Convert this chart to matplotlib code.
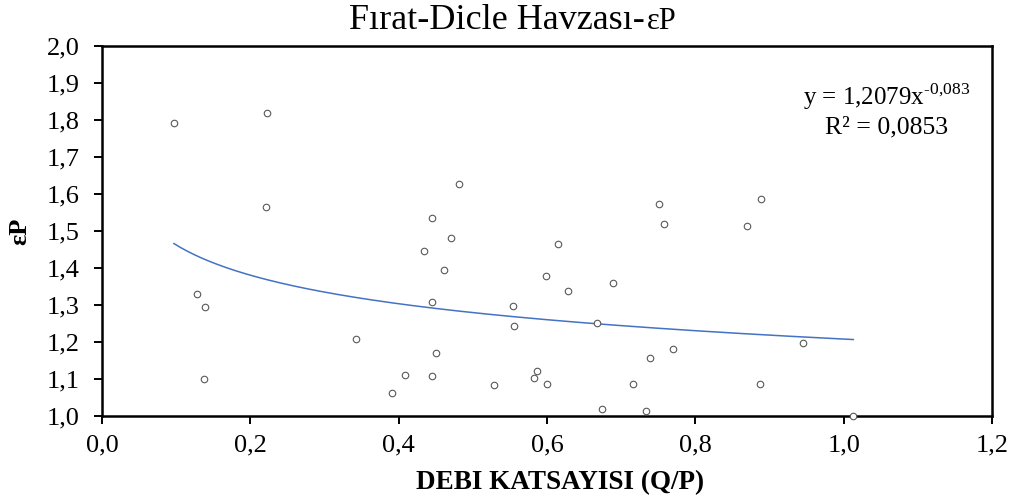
import matplotlib
matplotlib.use('Agg')
import matplotlib.pyplot as plt
import numpy as np
from matplotlib.ticker import FuncFormatter, MultipleLocator

plt.rcParams['font.family'] = ['Liberation Serif', 'DejaVu Serif']
plt.rcParams['mathtext.fontset'] = 'custom'
plt.rcParams['mathtext.rm'] = 'Liberation Serif'

# debi katsayisi (Q/P) and eP values
q_p = [0.097, 0.223, 0.221, 0.128, 0.139, 0.137, 0.342, 0.409, 0.391,
       0.482, 0.445, 0.471, 0.434, 0.461, 0.445, 0.554, 0.555, 0.615,
       0.599, 0.628, 0.689, 0.667, 0.751, 0.758, 0.450, 0.445, 0.529,
       0.586, 0.583, 0.600, 0.674, 0.734, 0.716, 0.739, 0.770, 0.889,
       0.869, 0.945, 0.887, 1.013]
eps_p = [1.791, 1.819, 1.565, 1.331, 1.295, 1.101, 1.208, 1.111, 1.061,
         1.627, 1.535, 1.482, 1.447, 1.394, 1.309, 1.298, 1.243, 1.466,
         1.379, 1.338, 1.360, 1.250, 1.574, 1.518, 1.170, 1.109, 1.084,
         1.122, 1.103, 1.087, 1.018, 1.014, 1.086, 1.156, 1.180, 1.587,
         1.513, 1.198, 1.086, 1.001]

# power trendline y = a * x^b
a, b = 1.2079, -0.083

fig = plt.figure(figsize=(10.16, 5.01), dpi=100)
ax = fig.add_axes([0.1004, 0.1697, 0.8760, 0.7385])

ax.scatter(q_p, eps_p, s=22, facecolors='white', edgecolors='#595959',
           linewidths=0.8, zorder=3, clip_on=False)
xs = np.linspace(min(q_p), max(q_p), 200)
ax.plot(xs, a * xs ** b, color='#4472C4', lw=1.1, zorder=2)

ax.set_xlim(0, 1.2)
ax.set_ylim(1.0, 2.0)
ax.xaxis.set_major_locator(MultipleLocator(0.2))
ax.yaxis.set_major_locator(MultipleLocator(0.1))
fmt = FuncFormatter(lambda v, p: f'{v:.1f}'.replace('.', ','))
ax.xaxis.set_major_formatter(fmt)
ax.yaxis.set_major_formatter(fmt)
ax.tick_params(direction='out', length=6, width=1.4, labelsize=19,
               colors='black')
ax.tick_params(axis='y', pad=10)
ax.tick_params(axis='x', pad=7)
for s in ax.spines.values():
    s.set_linewidth(1.8)
    s.set_color('black')

ax.set_xlabel('DEBI KATSAYISI (Q/P)', fontsize=19.5, fontweight='bold')
ax.xaxis.set_label_coords(0.515, -0.145)
ax.set_ylabel('εP', fontsize=19, fontweight='bold')
ax.yaxis.set_label_coords(-0.079, 0.5)

# title: main part plus a smaller "εP"
fig.text(645 / 1016, 0.942, 'Fırat-Dicle Havzası-', fontsize=26,
         ha='right', va='baseline')
fig.text(647 / 1016, 0.942, 'εP', fontsize=22, ha='left', va='baseline')

ax.text(0.882, 0.862, 'y = 1,2079x$^{\\mathregular{\u20100{,}083}}$',
        transform=ax.transAxes, ha='center', va='center', fontsize=18)
ax.text(0.882, 0.780, 'R² = 0,0853', transform=ax.transAxes,
        ha='center', va='center', fontsize=18.5)

fig.savefig('out.png', dpi=100)
